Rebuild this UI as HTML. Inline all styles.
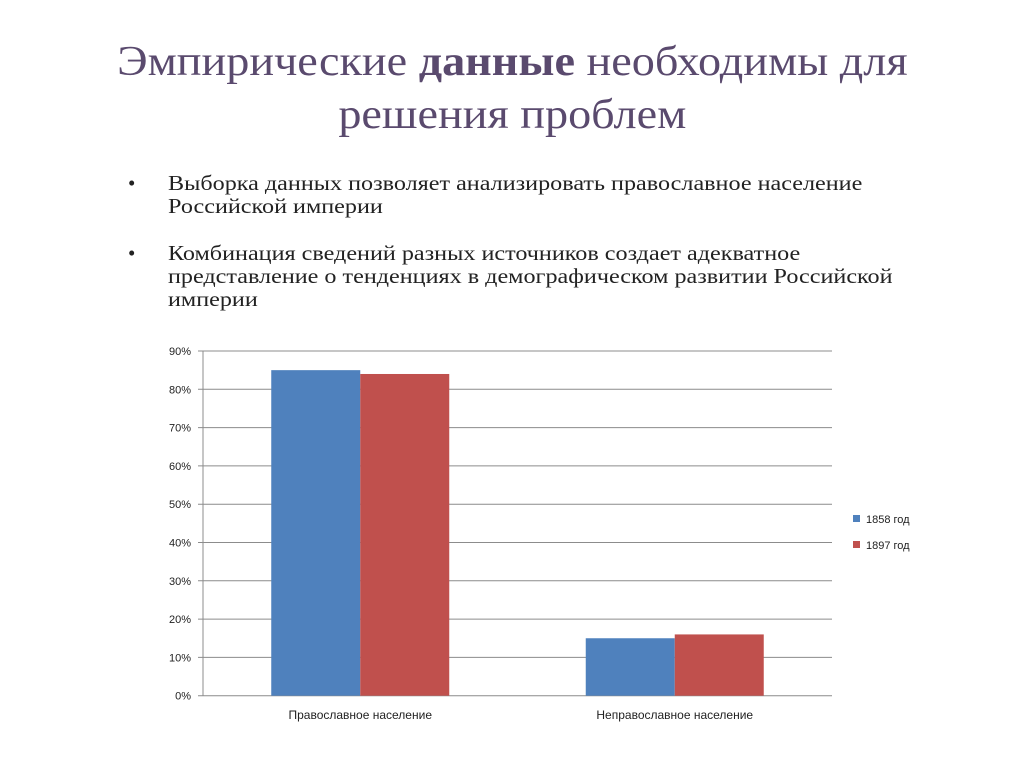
<!DOCTYPE html>
<html><head><meta charset="utf-8"><style>
body{margin:0;background:#fff;width:1024px;height:767px;overflow:hidden;position:relative;font-family:"Liberation Serif",serif}
.t{position:absolute;left:0;width:1024px;text-align:center;color:#5a4a6e;font-size:42px;line-height:53px;top:36px}
.t div{display:inline-block;transform:scaleX(1.1);white-space:nowrap}
.b{position:absolute;left:128px;font-size:21px;line-height:23px;color:#222;white-space:nowrap}
.b span{position:absolute;left:0}
.b div{position:absolute;left:40px;transform:scaleX(1.15);transform-origin:left top}
</style></head><body>
<div class="t"><div>Эмпирические <b>данные</b> необходимы для<br>решения проблем</div></div>
<div class="b" style="top:172px"><span>•</span><div>Выборка данных позволяет анализировать православное население<br>Российской империи</div></div>
<div class="b" style="top:242px"><span>•</span><div>Комбинация сведений разных источников создает адекватное<br>представление о тенденциях в демографическом развитии Российской<br>империи</div></div>
<svg id="c" width="1024" height="767" style="position:absolute;left:0;top:0"></svg>
<script>
const categories=["Православное население","Неправославное население"];
const series1858=[85,15];
const series1897=[84,16];
const seriesNames=["1858 год","1897 год"];
const ticks=[0,10,20,30,40,50,60,70,80,90];
const colors=["#4f81bd","#c0504d"];
const svg=document.getElementById('c');const NS="http://www.w3.org/2000/svg";
const x0=203,x1=832,y0=695.7,yTop=351,vmax=90;
const y=v=>y0-(v/vmax)*(y0-yTop);
function el(t,a,txt){const e=document.createElementNS(NS,t);for(const k in a)e.setAttribute(k,a[k]);if(txt!==undefined)e.textContent=txt;svg.appendChild(e);return e;}
ticks.forEach(t=>{
 const g=el('line',{x1:x0-5,x2:x1,y1:y(t),y2:y(t),stroke:'#8c8c8c','stroke-width':1});
 
 
 const l=el('text',{x:x0-12,y:y(t)+4,'text-anchor':'end','font-size':11,'font-family':'Liberation Sans, sans-serif',fill:'#222'},t+'%');
 
 
});
const ax=el('line',{x1:x0,x2:x0,y1:yTop,y2:y0,stroke:'#8c8c8c'});


const gw=(x1-x0)/categories.length,bw=89;
[series1858,series1897].forEach((s,si)=>{s.forEach((v,ci)=>{
 const cx=x0+gw*(ci+0.5);
 const r=el('rect',{x:cx-bw+si*bw,y:y(v),width:bw,height:y0-y(v),fill:colors[si]});
 
 
});});
categories.forEach((c,ci)=>{
 const t=el('text',{x:x0+gw*(ci+0.5),y:719,'text-anchor':'middle','font-size':12,'font-family':'Liberation Sans, sans-serif',fill:'#222'},c);
 
 
});
seriesNames.forEach((n,i)=>{
 const r=el('rect',{x:853,y:515+i*26,width:7,height:7,fill:colors[i]});
 
 
 const t=el('text',{x:866,y:523+i*26,'font-size':11,'font-family':'Liberation Sans, sans-serif',fill:'#222'},n);
 
 
});
</script>
</body></html>
